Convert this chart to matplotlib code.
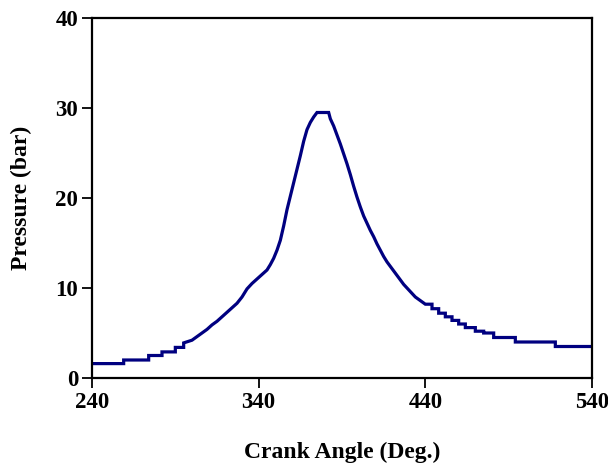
import matplotlib
matplotlib.use("Agg")
import matplotlib.pyplot as plt

# Crank angle / pressure (step pairs in the quantised tails)
crank_angle = [240, 259, 259, 274, 274, 282, 282, 290, 290, 295, 295,
               300, 303, 306, 309, 312, 315, 318, 321, 324, 327,
               330, 333, 336, 339, 342, 345, 347, 349, 351, 353, 355, 357, 359, 361, 363, 365,
               367, 369, 371, 373, 375, 382, 383, 385, 387, 389, 391, 393, 395, 397, 399, 401,
               403, 405, 407, 409, 411, 413, 415, 417, 419, 421, 423, 425, 427, 429, 432, 434, 437,
               440, 444, 444, 448, 448, 452, 452, 456, 456, 460, 460, 464, 464, 470, 470,
               475, 475, 481, 481, 494, 494, 518, 518, 540]
pressure = [1.6, 1.6, 2.0, 2.0, 2.5, 2.5, 2.9, 2.9, 3.4, 3.4, 3.9,
            4.2, 4.6, 5.0, 5.4, 5.9, 6.3, 6.8, 7.3, 7.8, 8.3,
            9.0, 9.9, 10.5, 11.0, 11.5, 12.0, 12.6, 13.3, 14.2, 15.3, 16.9, 18.7, 20.2, 21.7, 23.2, 24.7,
            26.3, 27.6, 28.4, 29.0, 29.5, 29.5, 28.8, 28.0, 27.0, 26.0, 24.9, 23.8, 22.6, 21.3, 20.1, 19.0,
            18.0, 17.2, 16.4, 15.7, 14.9, 14.2, 13.5, 12.9, 12.4, 11.9, 11.4, 10.9, 10.4, 10.0, 9.4, 9.0, 8.6,
            8.2, 8.2, 7.7, 7.7, 7.2, 7.2, 6.8, 6.8, 6.4, 6.4, 6.0, 6.0, 5.6, 5.6, 5.2,
            5.2, 5.0, 5.0, 4.5, 4.5, 4.0, 4.0, 3.5, 3.5]
x_ticks = [240, 340, 440, 540]
y_ticks = [0, 10, 20, 30, 40]

plt.rcParams['font.family'] = ['Liberation Serif', 'DejaVu Serif']
plt.rcParams['font.weight'] = 'bold'

fig = plt.figure(figsize=(6.08, 4.68), dpi=100)
ax = fig.add_axes([92/608, 1-378/468, 500/608, 360/468])
ax.plot(crank_angle, pressure, color='#000080', lw=2.3, solid_joinstyle='miter')
ax.set_xlim(240, 540)
ax.set_ylim(0, 40)
ax.set_xticks(x_ticks)
ax.set_yticks(y_ticks)
ax.tick_params(direction='out', length=7, width=1.3, labelsize=16.5, pad=3)
for lab in ax.get_xticklabels() + ax.get_yticklabels():
    lab.set_fontweight('bold')
for s in ax.spines.values():
    s.set_linewidth(1.6)
ax.set_xlabel('Crank Angle (Deg.)', fontsize=17, fontweight='bold', labelpad=21)
ax.set_ylabel('Pressure (bar)', fontsize=17, fontweight='bold', labelpad=17)
fig.savefig('out.png', dpi=100)
